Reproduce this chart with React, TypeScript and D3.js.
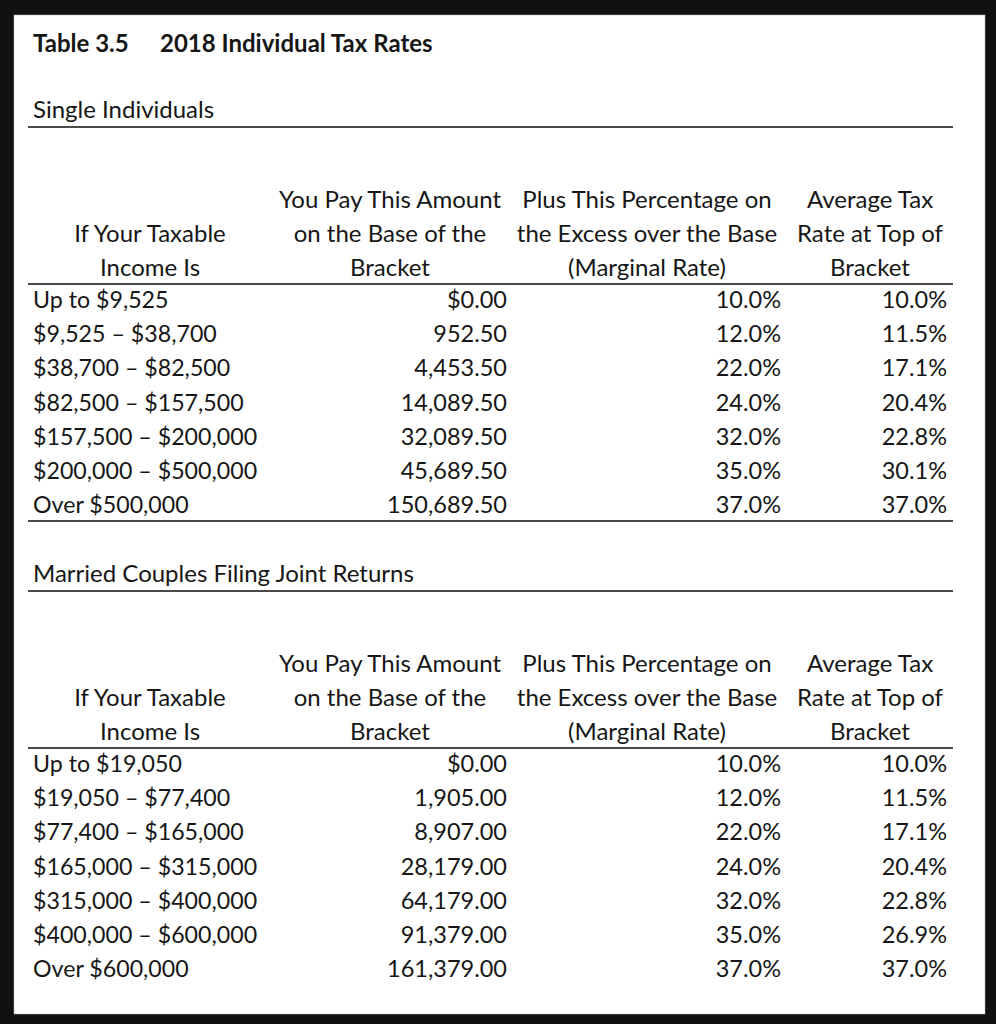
import React from 'react';
import * as d3 from 'd3';

const WIDTH = 996;
const HEIGHT = 1024;

// Column headers (three lines each)
const headerLines = [
  ['', 'If Your Taxable', 'Income Is'],
  ['You Pay This Amount', 'on the Base of the', 'Bracket'],
  ['Plus This Percentage on', 'the Excess over the Base', '(Marginal Rate)'],
  ['Average Tax', 'Rate at Top of', 'Bracket'],
];

// Single individuals
const singleBrackets = [
  'Up to $9,525',
  '$9,525 – $38,700',
  '$38,700 – $82,500',
  '$82,500 – $157,500',
  '$157,500 – $200,000',
  '$200,000 – $500,000',
  'Over $500,000',
];
const singleBase = [0, 952.5, 4453.5, 14089.5, 32089.5, 45689.5, 150689.5];
const singleMarginal = [10.0, 12.0, 22.0, 24.0, 32.0, 35.0, 37.0];
const singleAverage = [10.0, 11.5, 17.1, 20.4, 22.8, 30.1, 37.0];

// Married couples filing joint returns
const marriedBrackets = [
  'Up to $19,050',
  '$19,050 – $77,400',
  '$77,400 – $165,000',
  '$165,000 – $315,000',
  '$315,000 – $400,000',
  '$400,000 – $600,000',
  'Over $600,000',
];
const marriedBase = [0, 1905, 8907, 28179, 64179, 91379, 161379];
const marriedMarginal = [10.0, 12.0, 22.0, 24.0, 32.0, 35.0, 37.0];
const marriedAverage = [10.0, 11.5, 17.1, 20.4, 22.8, 26.9, 37.0];

const FONT = 'Lato, "Open Sans", sans-serif';
const INK = '#161616';
const RULE = '#4a4a4a';

const fmtMoney = d3.format(',.2f');
const fmtPct = d3.format('.1f');

// column anchors
const headerCenters = [150, 390, 647, 870];
const colRight = [507, 781, 947];
const leftX = 33;
const ruleX = [28, 953];

// row positions inside one section
const rowY = d3.scaleLinear().domain([0, 6]).range([0, 205]);
const headerY = d3.scaleLinear().domain([0, 2]).range([0, 68]);

function Section({ top, title, brackets, base, marginal, average }) {
  // top = baseline of section title
  const headTop = top + 90;
  const headRule = headTop + 76;
  const firstRow = headRule + 24;
  return (
    <g>
      <text x={leftX} y={top} fontSize={24} fill={INK}>{title}</text>
      <line x1={ruleX[0]} x2={ruleX[1]} y1={top + 9} y2={top + 9} stroke={RULE} strokeWidth={2} />
      {headerLines.map((lines, c) =>
        lines.map((t, i) => (
          <text key={c + '-' + i} x={headerCenters[c]} y={headTop + headerY(i)} textAnchor="middle" fontSize={24} fill={INK}>
            {t}
          </text>
        ))
      )}
      <line x1={ruleX[0]} x2={ruleX[1]} y1={headRule} y2={headRule} stroke={RULE} strokeWidth={2} />
      {brackets.map((b, i) => {
        const y = firstRow + rowY(i);
        return (
          <g key={i}>
            <text x={leftX} y={y} fontSize={23.2} fill={INK}>{b}</text>
            <text x={colRight[0]} y={y} textAnchor="end" fontSize={23.5} fill={INK}>
              {i === 0 ? '$' + fmtMoney(base[i]) : fmtMoney(base[i])}
            </text>
            <text x={colRight[1]} y={y} textAnchor="end" fontSize={23.5} fill={INK}>{fmtPct(marginal[i]) + '%'}</text>
            <text x={colRight[2]} y={y} textAnchor="end" fontSize={23.5} fill={INK}>{fmtPct(average[i]) + '%'}</text>
          </g>
        );
      })}
    </g>
  );
}

export default function App() {
  return (
    <svg
      width={WIDTH}
      height={HEIGHT}
      style={{ position: 'absolute', top: 0, left: 0, fontFamily: FONT }}
    >
      <rect x={0} y={0} width={WIDTH} height={HEIGHT} fill="#111" />
      <rect x={14} y={15} width={971} height={999} fill="#fff" stroke="#bbb" strokeWidth={0.5} />
      <text x={leftX} y={52} fontSize={24} fontWeight="bold" fill={INK}>
        Table 3.5
        <tspan x={160}>2018 Individual Tax Rates</tspan>
      </text>
      <Section
        top={118}
        title="Single Individuals"
        brackets={singleBrackets}
        base={singleBase}
        marginal={singleMarginal}
        average={singleAverage}
      />
      <line x1={ruleX[0]} x2={ruleX[1]} y1={521} y2={521} stroke={RULE} strokeWidth={2} />
      <Section
        top={582}
        title="Married Couples Filing Joint Returns"
        brackets={marriedBrackets}
        base={marriedBase}
        marginal={marriedMarginal}
        average={marriedAverage}
      />
    </svg>
  );
}
